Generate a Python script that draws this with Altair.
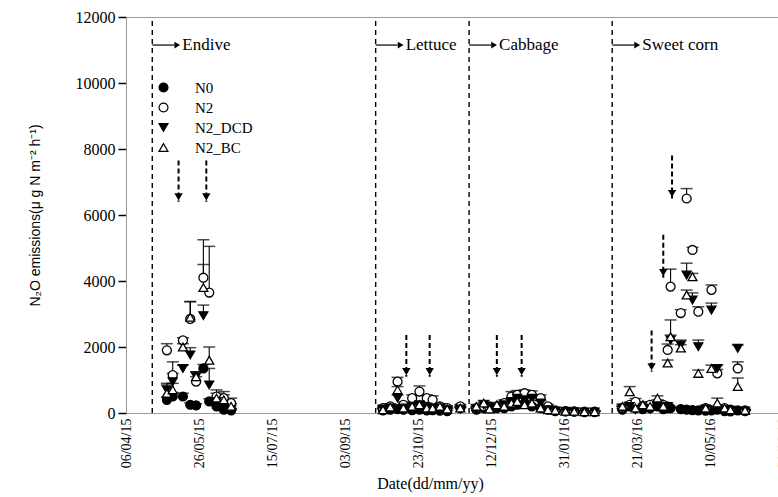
import altair as alt
import pandas as pd

# ---------------- data ----------------
series_names = ["N0", "N2", "N2_DCD", "N2_BC"]
series_shapes = ["circle", "circle", "triangle-down", "triangle-up"]
series_fills = ["black", "white", "black", "white"]
series_strokes = ["black", "black", "black", "black"]

# Endive
endive_dates = ["2015-05-04", "2015-05-08", "2015-05-15", "2015-05-20", "2015-05-24",
                "2015-05-29", "2015-06-02", "2015-06-07", "2015-06-12", "2015-06-17"]
endive_n0 = [400, 500, 500, 250, 230, 1350, 350, 200, 100, 80]
endive_n0_se = [80, 120, 100, 60, 50, 120, 80, 50, 40, 30]
endive_n2 = [1900, 1150, 2200, 2850, 950, 4100, 3650, 500, 450, 300]
endive_n2_se = [200, 400, 80, 520, 150, 1150, 1400, 200, 200, 150]
endive_dcd = [700, 950, 1350, 1760, 1100, 2950, 850, 350, 150, 100]
endive_dcd_se = [150, 250, 100, 220, 150, 320, 500, 100, 60, 40]
endive_bc = [600, 700, 2000, 2900, 1100, 3800, 1600, 450, 400, 200]
endive_bc_se = [300, 200, 100, 480, 150, 700, 400, 150, 150, 80]

# Lettuce
lettuce_dates = ["2015-09-29", "2015-10-04", "2015-10-09", "2015-10-13", "2015-10-19", "2015-10-24",
                 "2015-10-29", "2015-11-02", "2015-11-07", "2015-11-12", "2015-11-21"]
lettuce_n0 = [80, 100, 120, 100, 90, 100, 80, 90, 70, 60, 150]
lettuce_n0_se = [40, 40, 50, 40, 40, 40, 30, 30, 30, 30, 40]
lettuce_n2 = [150, 200, 950, 250, 450, 650, 450, 400, 200, 150, 200]
lettuce_n2_se = [60, 80, 130, 80, 100, 170, 100, 120, 80, 60, 60]
lettuce_dcd = [120, 150, 450, 150, 200, 250, 180, 120, 150, 100, 120]
lettuce_dcd_se = [50, 50, 100, 50, 60, 60, 50, 40, 50, 40, 40]
lettuce_bc = [100, 180, 700, 150, 200, 250, 150, 150, 200, 120, 150]
lettuce_bc_se = [40, 60, 100, 50, 60, 80, 50, 40, 60, 40, 50]

# Cabbage
cabbage_dates = ["2015-12-02", "2015-12-07", "2015-12-11", "2015-12-16", "2015-12-21", "2015-12-26",
                 "2015-12-30", "2016-01-04", "2016-01-09", "2016-01-15", "2016-01-20", "2016-01-25",
                 "2016-02-01", "2016-02-07", "2016-02-14", "2016-02-21"]
cabbage_n0 = [100, 150, 200, 150, 150, 200, 250, 300, 200, 150, 100, 60, 50, 40, 30, 30]
cabbage_n0_se = [40, 50, 50, 50, 50, 60, 60, 60, 60, 50, 40, 30, 20, 20, 20, 20]
cabbage_n2 = [150, 200, 150, 200, 300, 500, 550, 600, 550, 450, 200, 80, 60, 50, 40, 40]
cabbage_n2_se = [50, 60, 50, 80, 100, 150, 130, 100, 120, 100, 60, 30, 20, 20, 20, 20]
cabbage_dcd = [120, 250, 150, 150, 250, 350, 450, 400, 450, 300, 100, 60, 50, 40, 30, 30]
cabbage_dcd_se = [50, 60, 50, 50, 80, 100, 100, 100, 100, 80, 40, 30, 20, 20, 20, 20]
cabbage_bc = [200, 300, 120, 250, 200, 300, 350, 250, 300, 150, 100, 80, 50, 50, 40, 40]
cabbage_bc_se = [60, 80, 40, 70, 60, 100, 100, 80, 80, 50, 40, 30, 20, 20, 20, 20]

# Sweet corn
sweet_dates = ["2016-03-11", "2016-03-16", "2016-03-20", "2016-03-25", "2016-03-30", "2016-04-04",
               "2016-04-08", "2016-04-11", "2016-04-13", "2016-04-20", "2016-04-24", "2016-04-28",
               "2016-05-02", "2016-05-07", "2016-05-11", "2016-05-15", "2016-05-20", "2016-05-24",
               "2016-05-29", "2016-06-03"]
sweet_n0 = [100, 200, 150, 120, 150, 200, 120, 150, 150, 120, 100, 90, 80, 70, 80, 100, 60, 50, 80, 60]
sweet_n0_se = [40, 60, 50, 40, 50, 60, 40, 50, 50, 40, 40, 30, 30, 30, 30, 40, 30, 20, 30, 20]
sweet_n2 = [150, 250, 340, 200, 250, 300, 250, 1910, 3830, 3030, 6500, 4940, 3070, 150, 3730, 1200, 150, 100, 1350, 80]
sweet_n2_se = [60, 80, 100, 60, 80, 100, 80, 180, 530, 100, 300, 80, 150, 60, 150, 120, 60, 40, 200, 30]
sweet_dcd = [150, 200, 100, 150, 120, 200, 150, 200, 2210, 2060, 4180, 3420, 2010, 120, 3120, 1350, 100, 80, 1960, 60]
sweet_dcd_se = [50, 60, 40, 50, 50, 60, 50, 60, 150, 150, 360, 220, 200, 40, 210, 100, 40, 30, 100, 20]
sweet_bc = [200, 645, 150, 250, 200, 450, 200, 1515, 2310, 1970, 3575, 4130, 1200, 150, 1350, 300, 150, 100, 800, 80]
sweet_bc_se = [60, 155, 50, 80, 60, 70, 60, 90, 510, 100, 150, 100, 100, 50, 100, 150, 50, 40, 260, 30]

# Crop periods
crop_names = ["Endive", "Lettuce", "Cabbage", "Sweet corn"]
crop_starts = ["2015-04-24", "2015-09-24", "2015-11-27", "2016-03-04"]

# Fertilisation arrows
fert_dates = ["2015-05-12", "2015-05-31", "2015-10-15", "2015-10-31", "2015-12-16",
              "2016-01-02", "2016-03-31", "2016-04-08", "2016-04-14"]
fert_top = [7650, 7650, 2360, 2360, 2360, 2360, 2500, 5400, 7800]
fert_tip = [6400, 6400, 1100, 1100, 1100, 1100, 1250, 4100, 6500]

# Axis ticks
tick_dates = [(2015, 4, 6), (2015, 5, 26), (2015, 7, 15), (2015, 9, 3), (2015, 10, 23),
              (2015, 12, 12), (2016, 1, 31), (2016, 3, 21), (2016, 5, 10), (2016, 6, 29)]
y_ticks = [0, 2000, 4000, 6000, 8000, 10000, 12000]
label_y = 11150

# ---------------- build tables ----------------
blocks = [
    (endive_dates, [endive_n0, endive_n2, endive_dcd, endive_bc],
     [endive_n0_se, endive_n2_se, endive_dcd_se, endive_bc_se]),
    (lettuce_dates, [lettuce_n0, lettuce_n2, lettuce_dcd, lettuce_bc],
     [lettuce_n0_se, lettuce_n2_se, lettuce_dcd_se, lettuce_bc_se]),
    (cabbage_dates, [cabbage_n0, cabbage_n2, cabbage_dcd, cabbage_bc],
     [cabbage_n0_se, cabbage_n2_se, cabbage_dcd_se, cabbage_bc_se]),
    (sweet_dates, [sweet_n0, sweet_n2, sweet_dcd, sweet_bc],
     [sweet_n0_se, sweet_n2_se, sweet_dcd_se, sweet_bc_se]),
]
rows = []
for si, s in enumerate(series_names):
    for dates, vals, errs in blocks:
        for d, v, e in zip(dates, vals[si], errs[si]):
            rows.append({"date": d, "series": s, "value": v, "top": v + e})
df = pd.DataFrame(rows)

crop_df = pd.DataFrame({"start": crop_starts, "crop": crop_names})
fert_df = pd.DataFrame({"date": fert_dates, "top": fert_top, "tip": fert_tip})

# ---------------- chart ----------------
serif = "Liberation Serif"
dom = [alt.DateTime(year=2015, month=4, date=6, utc=True),
       alt.DateTime(year=2016, month=6, date=29, utc=True)]
tick_vals = [alt.DateTime(year=y, month=m, date=d, utc=True) for (y, m, d) in tick_dates]

x_enc = alt.X(
    "date:T",
    scale=alt.Scale(type="utc", domain=dom, nice=False),
    axis=alt.Axis(values=tick_vals, format="%d/%m/%y", labelAngle=270, labelFont=serif,
                  labelFontSize=14, ticks=False, labelPadding=5, labelFlush=False,
                  labelOverlap=False, title="Date(dd/mm/yy)", titleFont=serif,
                  titleFontSize=16, titleFontWeight="normal", titleX=304, titlePadding=8),
)
y_enc = alt.Y(
    "value:Q",
    scale=alt.Scale(domain=[0, 12000], nice=False),
    axis=alt.Axis(values=y_ticks, format="d", labelFont=serif, labelFontSize=16, tickSize=8,
                  tickWidth=1.5, labelPadding=3, title="N₂O emissions(μ g N m⁻² h⁻¹)",
                  titleFont="Liberation Sans", titleFontSize=14, titleFontWeight="normal",
                  titlePadding=33),
)

leg = alt.Legend(
    title=None, orient="none", legendX=30, legendY=63, labelFont=serif,
    labelFontSize=15, symbolSize=80, symbolStrokeWidth=1.2, labelOffset=24,
    rowPadding=4, padding=0, symbolOpacity=1,
)

base = alt.Chart(df)

stems = base.mark_rule(color="black", strokeWidth=1.1).encode(
    x=x_enc, y=y_enc, y2="top:Q")
caps = base.mark_tick(orient="horizontal", color="black", size=12, thickness=1.5).encode(
    x="date:T", y="top:Q")
pts = base.mark_point(filled=False, strokeWidth=1.3, size=80, opacity=1).encode(
    x="date:T", y="value:Q",
    shape=alt.Shape("series:N", scale=alt.Scale(domain=series_names, range=series_shapes), legend=leg),
    fill=alt.Fill("series:N", scale=alt.Scale(domain=series_names, range=series_fills), legend=leg),
    stroke=alt.Stroke("series:N", scale=alt.Scale(domain=series_names, range=series_strokes), legend=leg),
)

crop_lines = alt.Chart(crop_df).mark_rule(color="black", strokeDash=[5, 4], strokeWidth=1.4).encode(
    x="start:T", y=alt.datum(0), y2=alt.datum(12000))
crop_arrow = alt.Chart(crop_df).mark_rule(color="black", strokeWidth=1.2, x2Offset=22).encode(
    x="start:T", x2="start:T", y=alt.datum(label_y))
crop_head = alt.Chart(crop_df).mark_point(shape="triangle-right", filled=True, color="black",
                                           size=45, opacity=1, xOffset=25).encode(
    x="start:T", y=alt.datum(label_y))
crop_text = alt.Chart(crop_df).mark_text(align="left", baseline="middle", dx=30, font=serif,
                                          fontSize=17, color="black").encode(
    x="start:T", y=alt.datum(label_y), text="crop:N")

fert_line = alt.Chart(fert_df).mark_rule(color="black", strokeDash=[5, 3], strokeWidth=2).encode(
    x="date:T", y="top:Q", y2="tip:Q")
fert_head = alt.Chart(fert_df).mark_point(shape="triangle-down", filled=True, color="black",
                                           size=70, opacity=1, yOffset=-5).encode(
    x="date:T", y="tip:Q")

chart = alt.layer(
    stems, crop_lines, crop_arrow, crop_head, crop_text, fert_line, fert_head, caps, pts
).properties(
    width=657, height=396,
    padding={"left": 126, "top": 17, "right": -5, "bottom": 82},
    autosize=alt.AutoSizeParams(type="none"),
    background="white",
).configure_view(
    stroke="#9a9a9a", strokeWidth=1
).configure_axis(
    domainColor="#9a9a9a", grid=False, labelColor="black", tickColor="black", titleColor="black"
)

chart.save("out.html", embed_options={"renderer": "svg", "actions": False})
